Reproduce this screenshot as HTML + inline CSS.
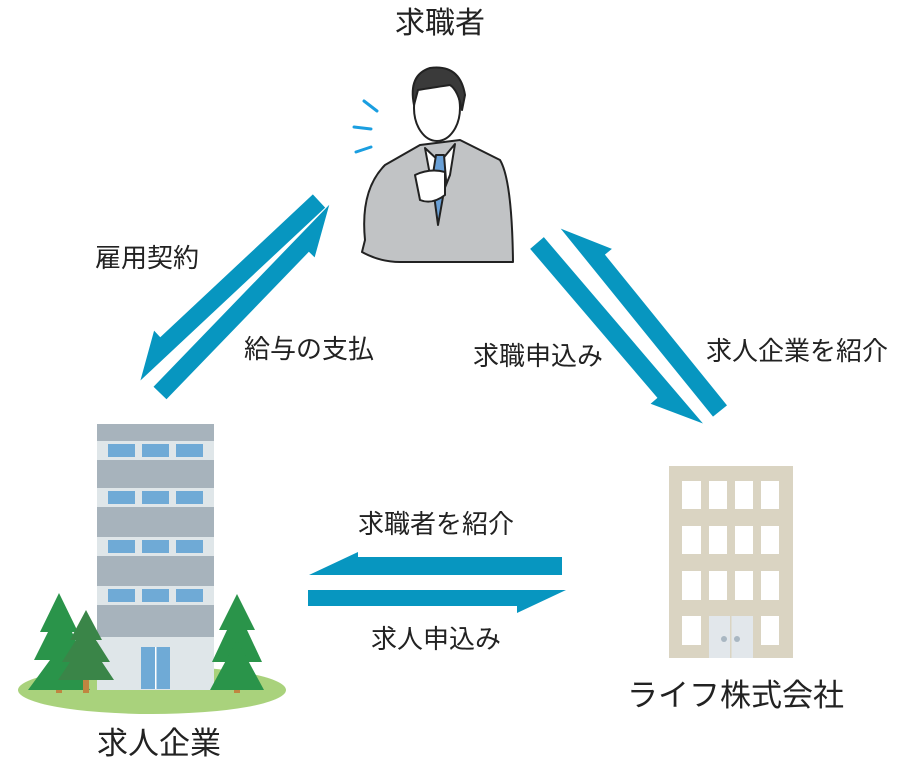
<!DOCTYPE html>
<html><head><meta charset="utf-8"><style>
body{margin:0;background:#fff;}
.l{position:absolute;font-family:"Liberation Sans","Noto Sans CJK JP",sans-serif;color:#222;white-space:nowrap;line-height:1;}
</style></head><body>
<div style="position:relative;width:900px;height:770px;overflow:hidden;">
<svg width="900" height="770" style="position:absolute;left:0;top:0">
<g fill="#0796c0">
<polygon points="562,557 358,557 358,552 309,575 562,575"/>
<polygon points="308,590 566,590 517,613 517,606 308,606"/>
<g transform="translate(537,243) rotate(49.5)"><polygon points="0,-9 245,-9 196,18 196,9 0,9"/></g>
<g transform="translate(720,411) rotate(-129)"><polygon points="0,-9 242,-9 194,18 194,9 0,9"/></g>
<g transform="translate(319,201) rotate(136.9)"><polygon points="0,-9 253,-9 209,18 209,9 0,9"/></g>
<g transform="translate(160,393) rotate(-46)"><polygon points="0,-9 253,-9 205,17 205,9 0,9"/></g>
</g>
<g stroke="#222" stroke-width="2" stroke-linejoin="round">
<path d="M365,240 Q360,190 385,165 L420,145 L460,140 L500,160 Q512,180 513,262 L400,262 Q380,262 362,252 Z" fill="#c1c3c5"/>
<path d="M425,148 L440,162 L455,144 L450,175 L440,200 L430,175 Z" fill="#fff"/>
<path d="M436,155 L444,155 L446,180 L438,225 L432,180 Z" fill="#6aa0d6"/>
<path d="M415,175 Q430,168 445,172 L445,195 Q432,205 420,200 Z" fill="#fff"/>
<ellipse cx="437" cy="108" rx="23" ry="33" fill="#fff"/>
<path d="M414,105 Q408,75 430,68 Q460,64 465,95 L462,110 Q458,90 450,85 Q430,88 418,90 Z" fill="#3a3a3a"/>
</g>
<g stroke="#1a9ee0" stroke-width="3" stroke-linecap="round">
<line x1="364" y1="101" x2="377" y2="111"/><line x1="354" y1="127" x2="371" y2="129"/><line x1="356" y1="152" x2="371" y2="147"/>
</g>
<ellipse cx="152" cy="690" rx="134" ry="24" fill="#a9d27c"/>
<rect x="97" y="424" width="117" height="266" fill="#a7b3bc"/>
<g fill="#dfe6e9">
<rect x="97" y="441" width="117" height="19"/><rect x="97" y="488" width="117" height="19"/><rect x="97" y="537" width="117" height="19"/><rect x="97" y="586" width="117" height="19"/>
<rect x="97" y="637" width="117" height="53"/>
</g>
<g fill="#6faad6">
<rect x="108" y="444" width="27" height="13"/><rect x="142" y="444" width="27" height="13"/><rect x="176" y="444" width="27" height="13"/>
<rect x="108" y="491" width="27" height="13"/><rect x="142" y="491" width="27" height="13"/><rect x="176" y="491" width="27" height="13"/>
<rect x="108" y="540" width="27" height="13"/><rect x="142" y="540" width="27" height="13"/><rect x="176" y="540" width="27" height="13"/>
<rect x="108" y="589" width="27" height="13"/><rect x="142" y="589" width="27" height="13"/><rect x="176" y="589" width="27" height="13"/>
<rect x="141" y="647" width="29" height="42"/>
</g>
<rect x="155" y="647" width="1.5" height="42" fill="#fff"/>
<g fill="#2a944a">
<rect x="56" y="660" width="6" height="33" fill="#c08540"/>
<polygon points="59,593 40,632 48,632 34,660 50,660 28,690 90,690 70,660 84,660 72,632 78,632"/>
<rect x="234" y="660" width="6" height="33" fill="#c08540"/>
<polygon points="237,594 219,630 227,630 212,662 262,662 247,630 255,630"/>
<polygon points="237,640 210,690 264,690"/>
</g>
<rect x="83" y="665" width="6" height="28" fill="#c08540"/>
<polygon points="86,610 70,640 76,640 62,662 70,662 58,680 114,680 102,662 110,662 96,640 102,640" fill="#3a8548"/>
<rect x="669" y="466" width="124" height="192" fill="#dad4c2"/>
<g fill="#fff">
<rect x="682" y="481" width="19" height="28"/><rect x="709" y="481" width="18" height="28"/><rect x="735" y="481" width="18" height="28"/><rect x="761" y="481" width="18" height="28"/>
<rect x="682" y="526" width="19" height="28"/><rect x="709" y="526" width="18" height="28"/><rect x="735" y="526" width="18" height="28"/><rect x="761" y="526" width="18" height="28"/>
<rect x="682" y="571" width="19" height="29"/><rect x="709" y="571" width="18" height="29"/><rect x="735" y="571" width="18" height="29"/><rect x="761" y="571" width="18" height="29"/>
<rect x="682" y="616" width="19" height="29"/><rect x="761" y="616" width="18" height="29"/>
</g>
<rect x="709" y="616" width="44" height="42" fill="#e2e7eb"/>
<rect x="730" y="616" width="1.5" height="42" fill="#dad4c2"/>
<circle cx="724" cy="639" r="3" fill="#a9b7c2"/><circle cx="737" cy="639" r="3" fill="#a9b7c2"/>
</svg>
<div class="l" style="left:395px;top:9px;font-size:30px;">求職者</div>
<div class="l" style="left:95px;top:245px;font-size:26px;">雇用契約</div>
<div class="l" style="left:244px;top:336px;font-size:26px;">給与の支払</div>
<div class="l" style="left:473px;top:343px;font-size:26px;">求職申込み</div>
<div class="l" style="left:706px;top:338px;font-size:26px;">求人企業を紹介</div>
<div class="l" style="left:358px;top:511px;font-size:26px;">求職者を紹介</div>
<div class="l" style="left:371px;top:626px;font-size:26px;">求人申込み</div>
<div class="l" style="left:97px;top:728px;font-size:31px;">求人企業</div>
<div class="l" style="left:627px;top:680px;font-size:31px;">ライフ株式会社</div>
</div>
</body></html>
